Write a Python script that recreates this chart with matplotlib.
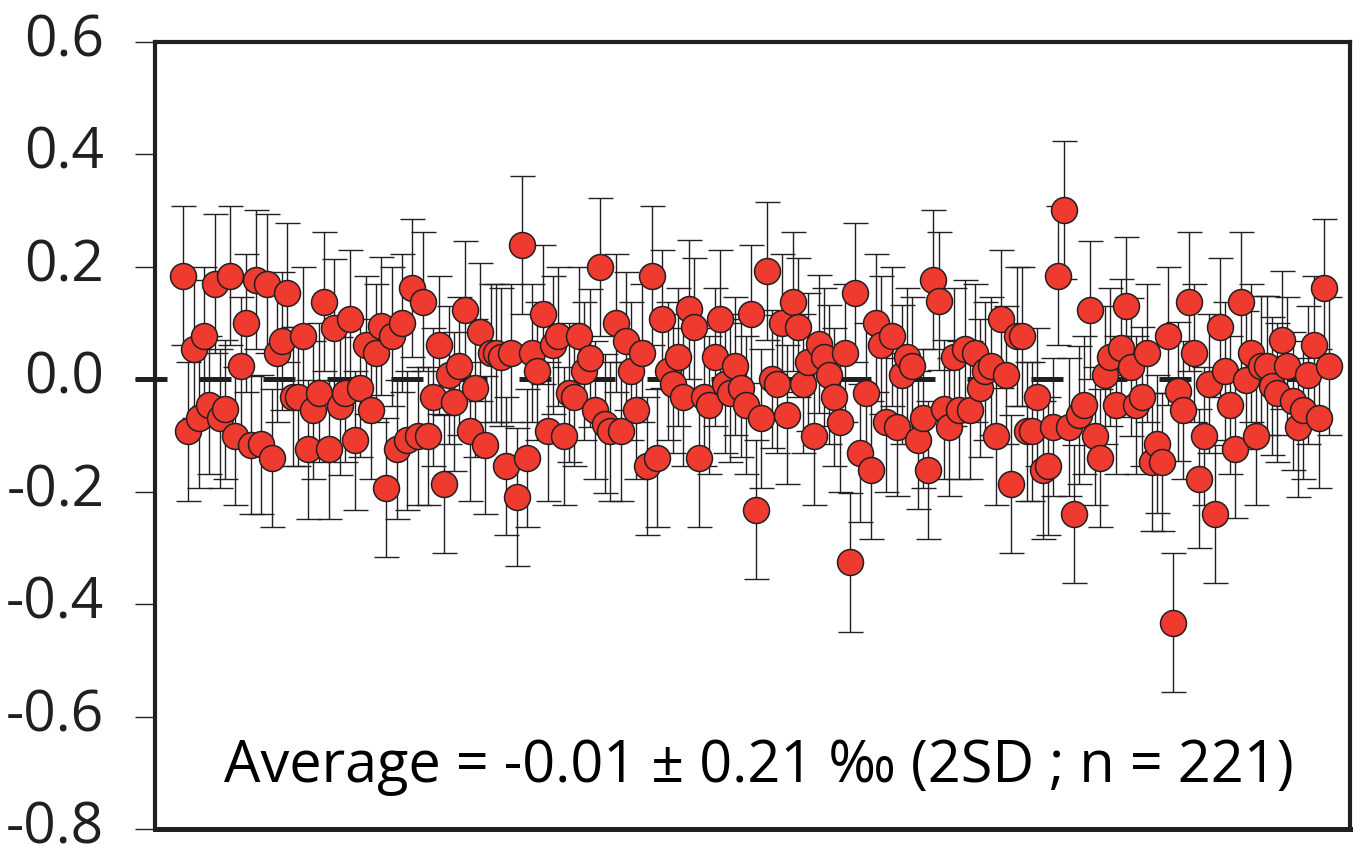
import matplotlib
matplotlib.use("Agg")
import matplotlib.pyplot as plt
from matplotlib.transforms import ScaledTranslation
import numpy as np

plt.rcParams['font.family'] = ['Open Sans', 'DejaVu Sans']

delta = [
    0.184, -0.093, 0.054, -0.070, 0.076, -0.046, 0.170, -0.070, -0.054, 0.184,
    -0.101, 0.023, 0.100, -0.117, 0.177, -0.116, 0.170, -0.140, 0.046, 0.068,
    0.154, -0.031, -0.031, 0.076, -0.125, -0.055, -0.024, 0.138, -0.125, 0.091,
    -0.048, -0.024, 0.107, -0.109,
    -0.016, 0.061, -0.055, 0.046, 0.094, -0.193, 0.076, -0.125, 0.100, -0.109,
    0.162, -0.101, 0.138, -0.101, -0.032, 0.061, -0.186, 0.007, -0.040, 0.023,
    0.123, -0.093, -0.016, 0.084, -0.117, 0.046, 0.046, 0.039,
    -0.155, 0.046, -0.210, 0.238, -0.140, 0.046, 0.015, 0.115, -0.093, 0.061,
    0.076, -0.101, -0.024, -0.032, 0.076, 0.015, 0.037, -0.055, 0.199, -0.079,
    -0.093, 0.100, -0.093, 0.068, 0.015, -0.055, 0.046, -0.155, 0.184, -0.140,
    0.107, 0.015, -0.008, 0.039, -0.032, 0.124, 0.092, -0.140, -0.032, -0.046,
    0.039, 0.107, -0.008, -0.024, 0.023, -0.016, -0.046, 0.116, -0.232, -0.070,
    0.192, 0.000, -0.009, 0.100, -0.063, 0.138, 0.092, -0.008, 0.030,
    -0.101, 0.063, 0.039, 0.008, -0.032, -0.077, 0.046, -0.326, 0.154, -0.131,
    -0.024, -0.162, 0.100, 0.061, -0.077, 0.076, -0.085, 0.008, 0.039, 0.023,
    -0.108, -0.070, -0.162, 0.177, 0.139, -0.054, -0.085, 0.039, -0.055, 0.054,
    -0.055, 0.046, -0.016, 0.015, 0.023, -0.101, 0.107, 0.007, -0.186, 0.076,
    0.076, -0.093, -0.093, -0.032, -0.162, -0.155, -0.085, 0.184, 0.301, -0.085,
    -0.240, -0.064, -0.046, 0.123, -0.101, -0.140, 0.007, 0.039,
    -0.046, 0.055, 0.130, 0.022, -0.046, -0.031, 0.046, -0.147, -0.115, -0.147,
    0.077, -0.433, -0.022, -0.055, 0.138, 0.046, -0.177, -0.101, -0.008, -0.240,
    0.092, 0.015, -0.046, -0.124, 0.138, -0.001, 0.046, -0.101,
    0.024, 0.024, -0.012, -0.024, 0.070, 0.023, -0.039, -0.086, -0.055, 0.007,
    0.061, -0.070, 0.162, 0.023,
]
err = 0.123  # error bar half length

yticks = [-0.8, -0.6, -0.4, -0.2, 0.0, 0.2, 0.4, 0.6]
ytick_labels = ['-0.8', '-0.6', '-0.4', '-0.2', '0.0', '0.2', '0.4', '0.6']
note = 'Average = -0.01 \u00b1 0.21 \u2030 (2SD ; n = 221)'

dark = '#231f20'
red = '#ee3a2f'

fig = plt.figure(figsize=(13.53, 8.45), dpi=100)
ax = fig.add_axes([155 / 1353, 15 / 845, 1195 / 1353, 787.3 / 845])

x = np.arange(len(delta))
ax.errorbar(x, delta, yerr=err, fmt='none', ecolor=dark, elinewidth=1.0,
            capsize=9, capthick=1.0, zorder=2)
ax.plot([-9.27, 224.0], [0, 0], color=dark, lw=3.6, dashes=(6.4, 6.4),
        clip_on=False, zorder=2.5)
ax.plot(x, delta, 'o', ms=18.7, mfc=red, mec=dark, mew=1.1, zorder=3)

ax.set_xlim(-5.43, 224.0)
ax.set_ylim(-0.8, 0.6)
ax.set_xticks([])
ax.set_yticks(yticks)
ax.set_yticklabels(ytick_labels)
ax.tick_params(axis='y', direction='out', length=14.4, width=1.0, pad=22,
               labelsize=41, colors=dark)
for lab in ax.get_yticklabels():
    lab.set_transform(lab.get_transform() + ScaledTranslation(0, 0.08, fig.dpi_scale_trans))

for s in ax.spines.values():
    s.set_linewidth(3.0)
    s.set_color(dark)
ax.spines['bottom'].set_linewidth(3.6)

ax.text(0.505, 0.061, note, transform=ax.transAxes, ha='center', va='baseline',
        fontsize=41.5, color='black')

fig.savefig('out.png', dpi=100)
